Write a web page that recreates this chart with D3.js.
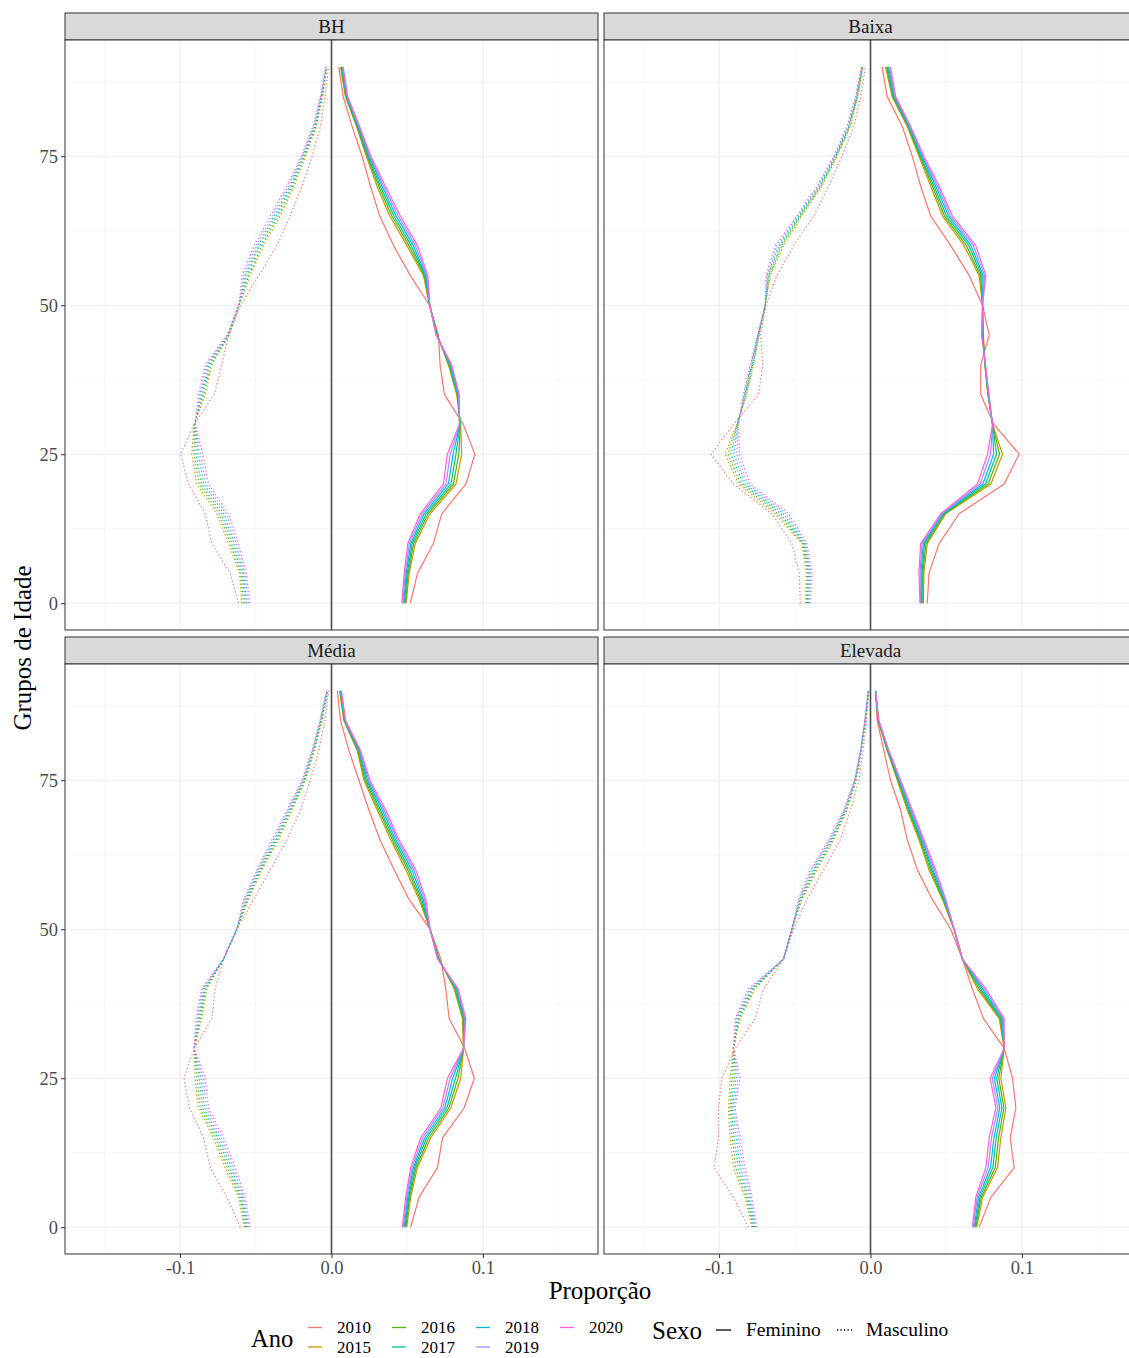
<!DOCTYPE html>
<html><head><meta charset="utf-8">
<script src="https://cdn.jsdelivr.net/npm/d3@7"></script>
<style>
body{margin:0;background:#fff;overflow:hidden}
svg{display:block}
text{font-family:"Liberation Serif","Times New Roman",serif}
</style>
</head><body>
<svg id="chart" width="1129" height="1358"></svg>
<script>
// ---------- data ----------
const ages = [0,5,10,15,20,25,30,35,40,45,50,55,60,65,70,75,80,85,90];
const years = ["2010","2015","2016","2017","2018","2019","2020"];
const yearColors = ["#F8766D","#C49A00","#53B400","#00C094","#00B6EB","#A58AFF","#FB61D7"];
const facetNames = ["BH","Baixa","Média","Elevada"];
const sexNames = ["Feminino","Masculino"];
const xTickValues = [-0.1, 0.0, 0.1];
const xTickLabels = ["-0.1","0.0","0.1"];
const yTickValues = [0,25,50,75];

// rows: 2010, 2015, 2016, 2017, 2018, 2019, 2020 ; columns: ages 0..90
const bhFeminino = [
 [0.0520,0.0568,0.0673,0.0728,0.0888,0.0947,0.0870,0.0746,0.0717,0.0706,0.0647,0.0520,0.0410,0.0318,0.0257,0.0202,0.0136,0.0077,0.0048],
 [0.0493,0.0513,0.0553,0.0651,0.0822,0.0860,0.0853,0.0827,0.0772,0.0700,0.0647,0.0607,0.0498,0.0384,0.0300,0.0230,0.0165,0.0092,0.0059],
 [0.0487,0.0506,0.0543,0.0638,0.0805,0.0841,0.0851,0.0830,0.0776,0.0698,0.0648,0.0613,0.0512,0.0398,0.0311,0.0236,0.0169,0.0095,0.0063],
 [0.0482,0.0500,0.0533,0.0625,0.0789,0.0822,0.0849,0.0834,0.0781,0.0696,0.0648,0.0619,0.0526,0.0412,0.0322,0.0242,0.0173,0.0098,0.0066],
 [0.0476,0.0493,0.0524,0.0612,0.0772,0.0803,0.0848,0.0837,0.0785,0.0694,0.0649,0.0624,0.0540,0.0426,0.0333,0.0248,0.0178,0.0101,0.0070],
 [0.0471,0.0487,0.0514,0.0599,0.0756,0.0784,0.0846,0.0841,0.0790,0.0692,0.0649,0.0630,0.0554,0.0440,0.0344,0.0254,0.0182,0.0104,0.0073],
 [0.0465,0.0480,0.0504,0.0586,0.0739,0.0765,0.0844,0.0844,0.0794,0.0690,0.0650,0.0636,0.0568,0.0454,0.0355,0.0260,0.0186,0.0107,0.0077]
];
const bhMasculino = [
 [-0.0614,-0.0669,-0.0790,-0.0834,-0.0945,-0.0996,-0.0907,-0.0775,-0.0724,-0.0680,-0.0600,-0.0480,-0.0360,-0.0272,-0.0194,-0.0128,-0.0073,-0.0044,-0.0018],
 [-0.0592,-0.0607,-0.0680,-0.0757,-0.0890,-0.0923,-0.0907,-0.0834,-0.0790,-0.0675,-0.0610,-0.0536,-0.0448,-0.0338,-0.0245,-0.0172,-0.0099,-0.0060,-0.0029],
 [-0.0582,-0.0598,-0.0667,-0.0742,-0.0874,-0.0908,-0.0906,-0.0843,-0.0799,-0.0678,-0.0610,-0.0547,-0.0460,-0.0351,-0.0255,-0.0178,-0.0103,-0.0063,-0.0031],
 [-0.0571,-0.0589,-0.0654,-0.0726,-0.0859,-0.0894,-0.0904,-0.0852,-0.0808,-0.0681,-0.0611,-0.0558,-0.0473,-0.0364,-0.0265,-0.0183,-0.0108,-0.0065,-0.0033],
 [-0.0561,-0.0581,-0.0640,-0.0711,-0.0843,-0.0879,-0.0903,-0.0861,-0.0816,-0.0684,-0.0611,-0.0568,-0.0485,-0.0378,-0.0274,-0.0189,-0.0112,-0.0068,-0.0034],
 [-0.0550,-0.0572,-0.0627,-0.0695,-0.0828,-0.0865,-0.0901,-0.0870,-0.0825,-0.0687,-0.0612,-0.0579,-0.0498,-0.0391,-0.0284,-0.0194,-0.0117,-0.0070,-0.0036],
 [-0.0540,-0.0563,-0.0614,-0.0680,-0.0812,-0.0850,-0.0900,-0.0879,-0.0834,-0.0690,-0.0612,-0.0590,-0.0510,-0.0404,-0.0294,-0.0200,-0.0121,-0.0073,-0.0038]
];
const baixaFeminino = [
 [0.0375,0.0386,0.0453,0.0585,0.0883,0.0982,0.0815,0.0728,0.0728,0.0784,0.0740,0.0651,0.0530,0.0397,0.0331,0.0276,0.0210,0.0110,0.0077],
 [0.0349,0.0353,0.0375,0.0497,0.0795,0.0872,0.0806,0.0775,0.0755,0.0746,0.0740,0.0717,0.0618,0.0475,0.0397,0.0320,0.0243,0.0143,0.0099],
 [0.0345,0.0346,0.0366,0.0490,0.0777,0.0852,0.0806,0.0776,0.0756,0.0743,0.0740,0.0726,0.0633,0.0488,0.0408,0.0327,0.0247,0.0148,0.0106],
 [0.0340,0.0340,0.0357,0.0484,0.0759,0.0832,0.0806,0.0778,0.0757,0.0741,0.0740,0.0735,0.0649,0.0501,0.0419,0.0333,0.0252,0.0152,0.0112],
 [0.0336,0.0333,0.0349,0.0477,0.0742,0.0813,0.0806,0.0779,0.0758,0.0738,0.0740,0.0744,0.0664,0.0515,0.0431,0.0340,0.0256,0.0157,0.0119],
 [0.0331,0.0327,0.0340,0.0471,0.0724,0.0793,0.0806,0.0781,0.0759,0.0736,0.0740,0.0753,0.0680,0.0528,0.0442,0.0346,0.0261,0.0161,0.0125],
 [0.0327,0.0320,0.0331,0.0464,0.0706,0.0773,0.0806,0.0782,0.0760,0.0733,0.0740,0.0762,0.0695,0.0541,0.0453,0.0353,0.0265,0.0166,0.0132]
];
const baixaMasculino = [
 [-0.0464,-0.0470,-0.0519,-0.0651,-0.0905,-0.1053,-0.0905,-0.0740,-0.0711,-0.0725,-0.0690,-0.0618,-0.0508,-0.0375,-0.0276,-0.0188,-0.0110,-0.0066,-0.0033],
 [-0.0430,-0.0424,-0.0453,-0.0629,-0.0872,-0.0960,-0.0883,-0.0817,-0.0773,-0.0735,-0.0695,-0.0662,-0.0574,-0.0453,-0.0320,-0.0220,-0.0132,-0.0084,-0.0049],
 [-0.0423,-0.0416,-0.0446,-0.0611,-0.0857,-0.0941,-0.0881,-0.0821,-0.0777,-0.0737,-0.0695,-0.0667,-0.0585,-0.0460,-0.0327,-0.0225,-0.0137,-0.0087,-0.0051],
 [-0.0417,-0.0409,-0.0440,-0.0593,-0.0841,-0.0922,-0.0879,-0.0826,-0.0782,-0.0739,-0.0695,-0.0673,-0.0596,-0.0466,-0.0333,-0.0229,-0.0141,-0.0090,-0.0053],
 [-0.0410,-0.0401,-0.0433,-0.0576,-0.0826,-0.0903,-0.0876,-0.0830,-0.0786,-0.0742,-0.0695,-0.0678,-0.0607,-0.0473,-0.0340,-0.0234,-0.0146,-0.0093,-0.0056],
 [-0.0404,-0.0394,-0.0427,-0.0558,-0.0810,-0.0884,-0.0874,-0.0835,-0.0791,-0.0744,-0.0695,-0.0684,-0.0618,-0.0479,-0.0346,-0.0238,-0.0150,-0.0096,-0.0058],
 [-0.0397,-0.0386,-0.0420,-0.0540,-0.0795,-0.0865,-0.0872,-0.0839,-0.0795,-0.0746,-0.0695,-0.0689,-0.0629,-0.0486,-0.0353,-0.0243,-0.0155,-0.0099,-0.0060]
];
const mediaFeminino = [
 [0.0523,0.0578,0.0700,0.0733,0.0876,0.0943,0.0880,0.0777,0.0755,0.0722,0.0651,0.0512,0.0413,0.0320,0.0247,0.0181,0.0115,0.0060,0.0038],
 [0.0497,0.0523,0.0567,0.0656,0.0788,0.0854,0.0872,0.0865,0.0810,0.0711,0.0651,0.0578,0.0490,0.0391,0.0302,0.0214,0.0170,0.0082,0.0053],
 [0.0491,0.0516,0.0558,0.0643,0.0775,0.0836,0.0872,0.0869,0.0815,0.0709,0.0651,0.0587,0.0503,0.0402,0.0313,0.0222,0.0174,0.0084,0.0056],
 [0.0485,0.0510,0.0549,0.0629,0.0762,0.0819,0.0872,0.0874,0.0821,0.0707,0.0651,0.0596,0.0516,0.0413,0.0324,0.0230,0.0179,0.0086,0.0058],
 [0.0480,0.0503,0.0541,0.0616,0.0748,0.0801,0.0872,0.0878,0.0826,0.0704,0.0651,0.0605,0.0530,0.0424,0.0336,0.0238,0.0183,0.0089,0.0061],
 [0.0474,0.0497,0.0532,0.0602,0.0735,0.0784,0.0872,0.0883,0.0832,0.0702,0.0651,0.0614,0.0543,0.0435,0.0347,0.0246,0.0188,0.0091,0.0063],
 [0.0468,0.0490,0.0523,0.0589,0.0722,0.0766,0.0872,0.0887,0.0837,0.0700,0.0651,0.0623,0.0556,0.0446,0.0358,0.0254,0.0192,0.0093,0.0066]
];
const mediaMasculino = [
 [-0.0603,-0.0691,-0.0801,-0.0845,-0.0938,-0.0974,-0.0907,-0.0790,-0.0768,-0.0713,-0.0625,-0.0514,-0.0404,-0.0294,-0.0205,-0.0139,-0.0084,-0.0044,-0.0018],
 [-0.0576,-0.0614,-0.0702,-0.0780,-0.0879,-0.0901,-0.0907,-0.0857,-0.0823,-0.0713,-0.0625,-0.0547,-0.0459,-0.0349,-0.0260,-0.0172,-0.0113,-0.0062,-0.0024],
 [-0.0568,-0.0605,-0.0689,-0.0767,-0.0866,-0.0888,-0.0907,-0.0864,-0.0830,-0.0713,-0.0625,-0.0554,-0.0466,-0.0358,-0.0267,-0.0176,-0.0116,-0.0065,-0.0026],
 [-0.0560,-0.0596,-0.0676,-0.0753,-0.0852,-0.0874,-0.0907,-0.0872,-0.0837,-0.0713,-0.0625,-0.0560,-0.0472,-0.0367,-0.0274,-0.0181,-0.0119,-0.0068,-0.0028],
 [-0.0552,-0.0588,-0.0662,-0.0740,-0.0839,-0.0861,-0.0907,-0.0879,-0.0843,-0.0713,-0.0625,-0.0567,-0.0479,-0.0375,-0.0280,-0.0185,-0.0122,-0.0071,-0.0029],
 [-0.0544,-0.0579,-0.0649,-0.0726,-0.0825,-0.0847,-0.0907,-0.0887,-0.0850,-0.0713,-0.0625,-0.0573,-0.0485,-0.0384,-0.0287,-0.0190,-0.0125,-0.0074,-0.0031],
 [-0.0536,-0.0570,-0.0636,-0.0713,-0.0812,-0.0834,-0.0907,-0.0894,-0.0857,-0.0713,-0.0625,-0.0580,-0.0492,-0.0393,-0.0294,-0.0194,-0.0128,-0.0077,-0.0033]
];
const elevadaFeminino = [
 [0.0717,0.0795,0.0949,0.0923,0.0960,0.0938,0.0883,0.0746,0.0673,0.0607,0.0530,0.0408,0.0309,0.0243,0.0199,0.0132,0.0088,0.0044,0.0033],
 [0.0702,0.0740,0.0839,0.0861,0.0894,0.0861,0.0883,0.0850,0.0706,0.0607,0.0552,0.0475,0.0386,0.0320,0.0243,0.0177,0.0110,0.0050,0.0033],
 [0.0696,0.0731,0.0824,0.0846,0.0881,0.0847,0.0883,0.0857,0.0717,0.0607,0.0552,0.0479,0.0395,0.0327,0.0250,0.0181,0.0112,0.0051,0.0033],
 [0.0690,0.0722,0.0808,0.0830,0.0868,0.0833,0.0883,0.0863,0.0728,0.0607,0.0552,0.0484,0.0404,0.0333,0.0256,0.0186,0.0114,0.0052,0.0033],
 [0.0685,0.0713,0.0793,0.0815,0.0854,0.0818,0.0883,0.0870,0.0740,0.0607,0.0552,0.0488,0.0412,0.0340,0.0263,0.0190,0.0117,0.0053,0.0033],
 [0.0679,0.0704,0.0777,0.0799,0.0841,0.0804,0.0883,0.0876,0.0751,0.0607,0.0552,0.0493,0.0421,0.0346,0.0269,0.0195,0.0119,0.0054,0.0033],
 [0.0673,0.0695,0.0762,0.0784,0.0828,0.0790,0.0883,0.0883,0.0762,0.0607,0.0552,0.0497,0.0430,0.0353,0.0276,0.0199,0.0121,0.0055,0.0033]
];
const elevadaMasculino = [
 [-0.0806,-0.0905,-0.1033,-0.1004,-0.1004,-0.0982,-0.0894,-0.0762,-0.0706,-0.0574,-0.0508,-0.0419,-0.0309,-0.0199,-0.0132,-0.0077,-0.0049,-0.0026,-0.0011],
 [-0.0784,-0.0828,-0.0905,-0.0927,-0.0938,-0.0927,-0.0905,-0.0861,-0.0762,-0.0574,-0.0519,-0.0453,-0.0353,-0.0243,-0.0155,-0.0095,-0.0060,-0.0033,-0.0013],
 [-0.0777,-0.0819,-0.0890,-0.0914,-0.0929,-0.0914,-0.0905,-0.0868,-0.0771,-0.0574,-0.0519,-0.0457,-0.0362,-0.0250,-0.0159,-0.0097,-0.0061,-0.0034,-0.0013],
 [-0.0771,-0.0810,-0.0874,-0.0901,-0.0920,-0.0901,-0.0905,-0.0874,-0.0780,-0.0574,-0.0519,-0.0462,-0.0371,-0.0256,-0.0164,-0.0099,-0.0062,-0.0035,-0.0014],
 [-0.0764,-0.0802,-0.0859,-0.0887,-0.0912,-0.0887,-0.0905,-0.0881,-0.0788,-0.0574,-0.0519,-0.0466,-0.0379,-0.0263,-0.0168,-0.0102,-0.0064,-0.0036,-0.0014],
 [-0.0758,-0.0793,-0.0843,-0.0874,-0.0903,-0.0874,-0.0905,-0.0887,-0.0797,-0.0574,-0.0519,-0.0471,-0.0388,-0.0269,-0.0173,-0.0104,-0.0065,-0.0037,-0.0015],
 [-0.0751,-0.0784,-0.0828,-0.0861,-0.0894,-0.0861,-0.0905,-0.0894,-0.0806,-0.0574,-0.0519,-0.0475,-0.0397,-0.0276,-0.0177,-0.0106,-0.0066,-0.0038,-0.0015]
];

const facetData = {
  "BH": [bhFeminino, bhMasculino],
  "Baixa": [baixaFeminino, baixaMasculino],
  "Média": [mediaFeminino, mediaMasculino],
  "Elevada": [elevadaFeminino, elevadaMasculino]
};

// ---------- layout ----------
const svg = d3.select("#chart");
const panelW = 533, stripH = 27;
const colX = [65, 604];
const rowY = [13, 637];
const panelH = 590;
const serif = '"Liberation Serif","Times New Roman",serif';

const xDomain = [-0.176, 0.176];
const yDomain = [-4.5, 94.5];
const xMinor = [-0.15,-0.05,0.05,0.15];
const yMinor = [12.5,37.5,62.5,87.5];

facetNames.forEach((name, i) => {
  const col = i % 2, row = Math.floor(i / 2);
  const left = colX[col], top = rowY[row] + stripH;
  const x = d3.scaleLinear().domain(xDomain).range([left, left + panelW]);
  const y = d3.scaleLinear().domain(yDomain).range([top + panelH, top]);
  const g = svg.append("g");

  // strip
  g.append("rect").attr("x", left).attr("y", rowY[row]).attr("width", panelW).attr("height", stripH)
    .attr("fill", "#D9D9D9").attr("stroke", "#333").attr("stroke-width", 1);
  g.append("text").attr("x", left + panelW / 2).attr("y", rowY[row] + stripH / 2 + 6.5)
    .attr("text-anchor", "middle").attr("font-size", 19).attr("fill", "#1A1A1A").text(name);

  // panel background and grid
  g.append("rect").attr("x", left).attr("y", top).attr("width", panelW).attr("height", panelH).attr("fill", "#fff");
  const grid = g.append("g");
  xMinor.forEach(v => grid.append("line").attr("x1", x(v)).attr("x2", x(v)).attr("y1", top).attr("y2", top + panelH)
    .attr("stroke", "#F2F2F2").attr("stroke-width", 0.6));
  yMinor.forEach(v => grid.append("line").attr("y1", y(v)).attr("y2", y(v)).attr("x1", left).attr("x2", left + panelW)
    .attr("stroke", "#F2F2F2").attr("stroke-width", 0.6));
  xTickValues.forEach(v => grid.append("line").attr("x1", x(v)).attr("x2", x(v)).attr("y1", top).attr("y2", top + panelH)
    .attr("stroke", "#EBEBEB").attr("stroke-width", 1.1));
  yTickValues.forEach(v => grid.append("line").attr("y1", y(v)).attr("y2", y(v)).attr("x1", left).attr("x2", left + panelW)
    .attr("stroke", "#EBEBEB").attr("stroke-width", 1.1));

  // clip
  const cid = "clip" + i;
  svg.append("clipPath").attr("id", cid).append("rect")
    .attr("x", left).attr("y", top).attr("width", panelW).attr("height", panelH);
  const plot = g.append("g").attr("clip-path", `url(#${cid})`);

  const line = d3.line().x(d => x(d[0])).y(d => y(d[1]));
  const [fem, masc] = facetData[name];
  [fem, masc].forEach((series, s) => {
    series.forEach((vals, yi) => {
      const pts = vals.map((v, k) => [v, ages[k]]);
      plot.append("path").datum(pts).attr("d", line)
        .attr("fill", "none").attr("stroke", yearColors[yi])
        .attr("stroke-width", 1.2)
        .attr("stroke-linejoin", "round")
        .attr("stroke-dasharray", s === 1 ? "1.3,2.4" : null);
    });
  });

  // vertical line at 0
  plot.append("line").attr("x1", x(0)).attr("x2", x(0)).attr("y1", top).attr("y2", top + panelH)
    .attr("stroke", "#4D4D4D").attr("stroke-width", 1.6);

  // border
  g.append("rect").attr("x", left).attr("y", top).attr("width", panelW).attr("height", panelH)
    .attr("fill", "none").attr("stroke", "#333").attr("stroke-width", 1);

  // axes
  if (col === 0) {
    const ax = g.append("g").attr("transform", `translate(${left},0)`)
      .call(d3.axisLeft(y).tickValues(yTickValues).tickSize(4).tickPadding(3).tickFormat(d3.format("d")));
    ax.select(".domain").remove();
    ax.selectAll("line").attr("stroke", "#333");
    ax.selectAll("text").attr("font-family", serif).attr("font-size", 18.5).attr("fill", "#4D4D4D");
  }
  if (row === 1) {
    const ax = g.append("g").attr("transform", `translate(0,${top + panelH})`)
      .call(d3.axisBottom(x).tickValues(xTickValues).tickSize(4).tickPadding(3)
        .tickFormat((d, k) => xTickLabels[k]));
    ax.select(".domain").remove();
    ax.selectAll("line").attr("stroke", "#333");
    ax.selectAll("text").attr("font-family", serif).attr("font-size", 18.5).attr("fill", "#4D4D4D");
  }
});

// axis titles
svg.append("text").attr("x", 600).attr("y", 1299).attr("text-anchor", "middle")
  .attr("font-size", 25).attr("fill", "#000").text("Proporção");
svg.append("text").attr("transform", "translate(31,648) rotate(-90)").attr("text-anchor", "middle")
  .attr("font-size", 25).attr("fill", "#000").text("Grupos de Idade");

// ---------- legend ----------
const leg = svg.append("g");
leg.append("text").attr("x", 251).attr("y", 1347).attr("font-size", 24.5).text("Ano");
const colsX = [308, 392, 476, 560];
years.forEach((yr, i) => {
  const c = Math.floor(i / 2), r = i % 2;
  const cx = colsX[c], cy = 1327.5 + r * 19.5;
  leg.append("line").attr("x1", cx).attr("x2", cx + 14).attr("y1", cy).attr("y2", cy)
    .attr("stroke", yearColors[i]).attr("stroke-width", 1.3);
  leg.append("text").attr("x", cx + 29).attr("y", cy + 5.5).attr("font-size", 17).text(yr);
});
leg.append("text").attr("x", 652).attr("y", 1339).attr("font-size", 25).text("Sexo");
leg.append("line").attr("x1", 716).attr("x2", 731).attr("y1", 1330).attr("y2", 1330)
  .attr("stroke", "#000").attr("stroke-width", 1.3);
leg.append("text").attr("x", 746).attr("y", 1336).attr("font-size", 19.5).text(sexNames[0]);
leg.append("line").attr("x1", 837).attr("x2", 852).attr("y1", 1330).attr("y2", 1330)
  .attr("stroke", "#000").attr("stroke-width", 1.3).attr("stroke-dasharray", "1.3,2.2");
leg.append("text").attr("x", 866).attr("y", 1336).attr("font-size", 19.5).text(sexNames[1]);
</script>
</body></html>
